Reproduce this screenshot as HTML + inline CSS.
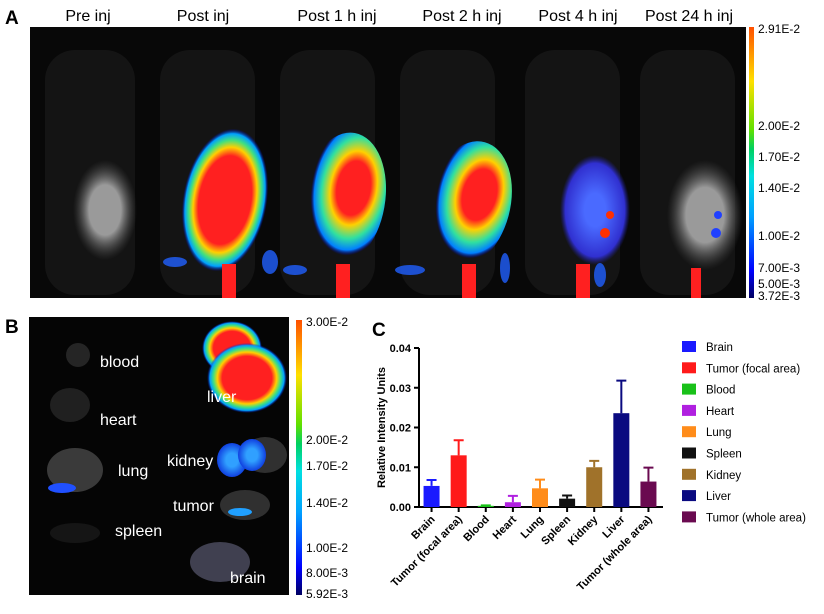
<!DOCTYPE html>
<html><head><meta charset="utf-8"><style>
body{margin:0;background:#fff;width:824px;height:609px;overflow:hidden;font-family:"Liberation Sans",Arial,sans-serif}
svg text{font-family:"Liberation Sans",Arial,sans-serif}
</style></head><body>
<svg width="824" height="609" viewBox="0 0 824 609">
<defs>
<linearGradient id="cb" x1="0" y1="1" x2="0" y2="0">
<stop offset="0" stop-color="#000060"/><stop offset="0.1" stop-color="#0000ff"/><stop offset="0.3" stop-color="#00a0ff"/><stop offset="0.45" stop-color="#00e0e0"/><stop offset="0.55" stop-color="#00d060"/><stop offset="0.62" stop-color="#60e000"/><stop offset="0.8" stop-color="#ffe000"/><stop offset="1" stop-color="#ff5000"/>
</linearGradient>
<radialGradient id="hot"><stop offset="0.62" stop-color="#ff2020"/><stop offset="0.74" stop-color="#ffd000"/><stop offset="0.84" stop-color="#40e080"/><stop offset="0.93" stop-color="#00a0ff"/><stop offset="1" stop-color="#0000c0" stop-opacity="0"/></radialGradient>
<radialGradient id="mid" cx="0.6" cy="0.4"><stop offset="0.4" stop-color="#ff2020"/><stop offset="0.55" stop-color="#ffd000"/><stop offset="0.75" stop-color="#30e0a0"/><stop offset="0.92" stop-color="#0080ff"/><stop offset="1" stop-color="#0000c0" stop-opacity="0"/></radialGradient>
<radialGradient id="blu"><stop offset="0.3" stop-color="#4a6aff"/><stop offset="0.85" stop-color="#3030d0"/><stop offset="1" stop-color="#2020a0" stop-opacity="0"/></radialGradient>
<radialGradient id="gray"><stop offset="0.5" stop-color="#9a9a9a"/><stop offset="1" stop-color="#505050" stop-opacity="0"/></radialGradient>
<radialGradient id="kid"><stop offset="0.4" stop-color="#30a0ff"/><stop offset="1" stop-color="#1040e0"/></radialGradient>
</defs>

<!-- Panel A -->
<text x="5" y="24" font-size="19" font-weight="bold">A</text>
<g font-size="16">
<text x="88" y="21" text-anchor="middle">Pre inj</text>
<text x="203" y="21" text-anchor="middle">Post inj</text>
<text x="337" y="21" text-anchor="middle">Post 1 h inj</text>
<text x="462" y="21" text-anchor="middle">Post 2 h inj</text>
<text x="578" y="21" text-anchor="middle">Post 4 h inj</text>
<text x="689" y="21" text-anchor="middle">Post 24 h inj</text>
</g>
<g>
<rect x="30" y="27" width="716" height="271" fill="#080808"/>
<g fill="#141414">
<rect x="45" y="50" width="90" height="245" rx="30"/><rect x="160" y="50" width="95" height="245" rx="30"/><rect x="280" y="50" width="95" height="245" rx="30"/><rect x="400" y="50" width="95" height="245" rx="30"/><rect x="525" y="50" width="95" height="245" rx="30"/><rect x="640" y="50" width="95" height="245" rx="30"/>
</g>
<ellipse cx="105" cy="210" rx="32" ry="50" fill="url(#gray)"/>
<ellipse cx="225" cy="200" rx="42" ry="72" fill="url(#hot)" transform="rotate(10 225 200)"/>
<ellipse cx="343" cy="200" rx="42" ry="68" fill="url(#mid)" transform="rotate(10 343 200)"/>
<ellipse cx="468" cy="205" rx="42" ry="65" fill="url(#mid)" transform="rotate(15 468 205)"/>
<ellipse cx="595" cy="210" rx="35" ry="55" fill="url(#blu)"/>
<ellipse cx="705" cy="215" rx="38" ry="55" fill="url(#gray)"/>
<circle cx="610" cy="215" r="4" fill="#ff3000"/><circle cx="605" cy="233" r="5" fill="#ff3000"/>
<circle cx="718" cy="215" r="4" fill="#2040ff"/><circle cx="716" cy="233" r="5" fill="#2040ff"/>
<g fill="#ff2020"><rect x="222" y="264" width="14" height="34"/><rect x="336" y="264" width="14" height="34"/><rect x="462" y="264" width="14" height="34"/><rect x="576" y="264" width="14" height="34"/><rect x="691" y="268" width="10" height="30"/></g>
<g fill="#2060ff" opacity="0.8"><ellipse cx="175" cy="262" rx="12" ry="5"/><ellipse cx="270" cy="262" rx="8" ry="12"/><ellipse cx="295" cy="270" rx="12" ry="5"/><ellipse cx="410" cy="270" rx="15" ry="5"/><ellipse cx="505" cy="268" rx="5" ry="15"/><ellipse cx="600" cy="275" rx="6" ry="12"/></g>
</g>
<rect x="749" y="27" width="5" height="271" fill="url(#cb)"/>
<g font-size="12">
<text x="758" y="33">2.91E-2</text><text x="758" y="130">2.00E-2</text><text x="758" y="161">1.70E-2</text><text x="758" y="192">1.40E-2</text><text x="758" y="240">1.00E-2</text><text x="758" y="272">7.00E-3</text><text x="758" y="288">5.00E-3</text><text x="758" y="300">3.72E-3</text>
</g>

<!-- Panel B -->
<text x="5" y="333" font-size="19" font-weight="bold">B</text>
<g>
<rect x="29" y="317" width="260" height="278" fill="#050505"/>
<circle cx="78" cy="355" r="12" fill="#252525"/>
<ellipse cx="70" cy="405" rx="20" ry="17" fill="#202020"/>
<ellipse cx="75" cy="470" rx="28" ry="22" fill="#3a3a3a"/>
<ellipse cx="62" cy="488" rx="14" ry="5" fill="#2050ff"/>
<ellipse cx="75" cy="533" rx="25" ry="10" fill="#151515"/>
<ellipse cx="220" cy="562" rx="30" ry="20" fill="#404050"/>
<ellipse cx="245" cy="505" rx="25" ry="15" fill="#303030"/>
<ellipse cx="240" cy="512" rx="12" ry="4" fill="#20a0ff"/>
<ellipse cx="265" cy="455" rx="22" ry="18" fill="#303030"/>
<ellipse cx="232" cy="460" rx="15" ry="17" fill="url(#kid)"/>
<ellipse cx="252" cy="455" rx="14" ry="16" fill="url(#kid)"/>
<ellipse cx="232" cy="348" rx="30" ry="27" fill="url(#hot)"/>
<ellipse cx="247" cy="378" rx="40" ry="35" fill="url(#hot)"/>
</g>
<g font-size="16" fill="#fff">
<text x="100" y="367">blood</text><text x="100" y="425">heart</text><text x="118" y="476">lung</text><text x="207" y="402">liver</text><text x="167" y="466">kidney</text><text x="173" y="511">tumor</text><text x="115" y="536">spleen</text><text x="230" y="583">brain</text>
</g>
<rect x="296" y="320" width="6" height="275" fill="url(#cb)"/>
<g font-size="12">
<text x="306" y="326">3.00E-2</text><text x="306" y="444">2.00E-2</text><text x="306" y="470">1.70E-2</text><text x="306" y="507">1.40E-2</text><text x="306" y="552">1.00E-2</text><text x="306" y="577">8.00E-3</text><text x="306" y="598">5.92E-3</text>
</g>

<!-- Panel C -->
<text x="372" y="336" font-size="19" font-weight="bold">C</text>
<g id="chart"></g>
<g id="legend"></g>
</svg>
<script>
const categories=["Brain","Tumor (focal area)","Blood","Heart","Lung","Spleen","Kidney","Liver","Tumor (whole area)"];
const values=[0.0053,0.0130,0.0003,0.0012,0.0047,0.0021,0.0100,0.0236,0.0064];
const errors=[0.0015,0.0038,0.0001,0.0016,0.0022,0.0008,0.0016,0.0082,0.0035];
const colors=["#1a1aff","#ff1a1a","#19c119","#b020e0","#ff8c1a","#111111","#a0722a","#0a0a80","#6a0a50"];
const yTicks=[0,0.01,0.02,0.03,0.04];
const yTickLabels=["0.00","0.01","0.02","0.03","0.04"];
const NS="http://www.w3.org/2000/svg";
const g=document.getElementById('chart');
const x0=419,x1=663,y0=507,yTop=348,ymax=0.04;
const ys=v=>y0-(v/ymax)*(y0-yTop);
const step=(x1-x0)/categories.length;
const xs=i=>x0+step*(i+0.5)-1;
function mk(t,a,p){const e=document.createElementNS(NS,t);for(const k in a)e.setAttribute(k,a[k]);(p||g).appendChild(e);return e;}
let ax=mk('path',{d:`M${x0} ${yTop}V${y0}H${x1}`,stroke:'#000','stroke-width':2,fill:'none'});


yTicks.forEach((t,i)=>{
 const tk=mk('line',{x1:x0-5,x2:x0,y1:ys(t),y2:ys(t),stroke:'#000','stroke-width':2});
 
 
 const tl=mk('text',{x:x0-8,y:ys(t)+4,'text-anchor':'end','font-size':11,'font-weight':'bold'});
 tl.textContent=yTickLabels[i];
 
 
});
const yt=mk('text',{x:0,y:0,transform:`translate(385 ${(y0+yTop)/2}) rotate(-90)`,'text-anchor':'middle','font-size':11,'font-weight':'bold'});
yt.textContent='Relative Intensity Units';


categories.forEach((c,i)=>{
 const cx=xs(i),bw=16;
 const top=ys(values[i]+errors[i]);
 const el=mk('path',{d:`M${cx} ${ys(values[i])}V${top}M${cx-5} ${top}H${cx+5}`,stroke:colors[i],'stroke-width':2,fill:'none'});
 
 
 const b=mk('rect',{x:cx-bw/2,y:ys(values[i]),width:bw,height:y0-ys(values[i]),fill:colors[i]});
 
 
 const tk=mk('line',{x1:cx,x2:cx,y1:y0,y2:y0+5,stroke:'#000','stroke-width':2});
 
 
 const t=mk('text',{x:0,y:0,transform:`translate(${cx+4} ${y0+13}) rotate(-45)`,'text-anchor':'end','font-size':11,'font-weight':'bold'});
 t.textContent=c;
 
 
});
const lg=document.getElementById('legend');
categories.forEach((c,i)=>{
 const y=341+i*21.3;
 const r=mk('rect',{x:682,y:y,width:14,height:11,fill:colors[i]},lg);
 
 
 const t=mk('text',{x:706,y:y+10,'font-size':11.5},lg);
 t.textContent=c;
 
 
});
</script>
</body></html>
